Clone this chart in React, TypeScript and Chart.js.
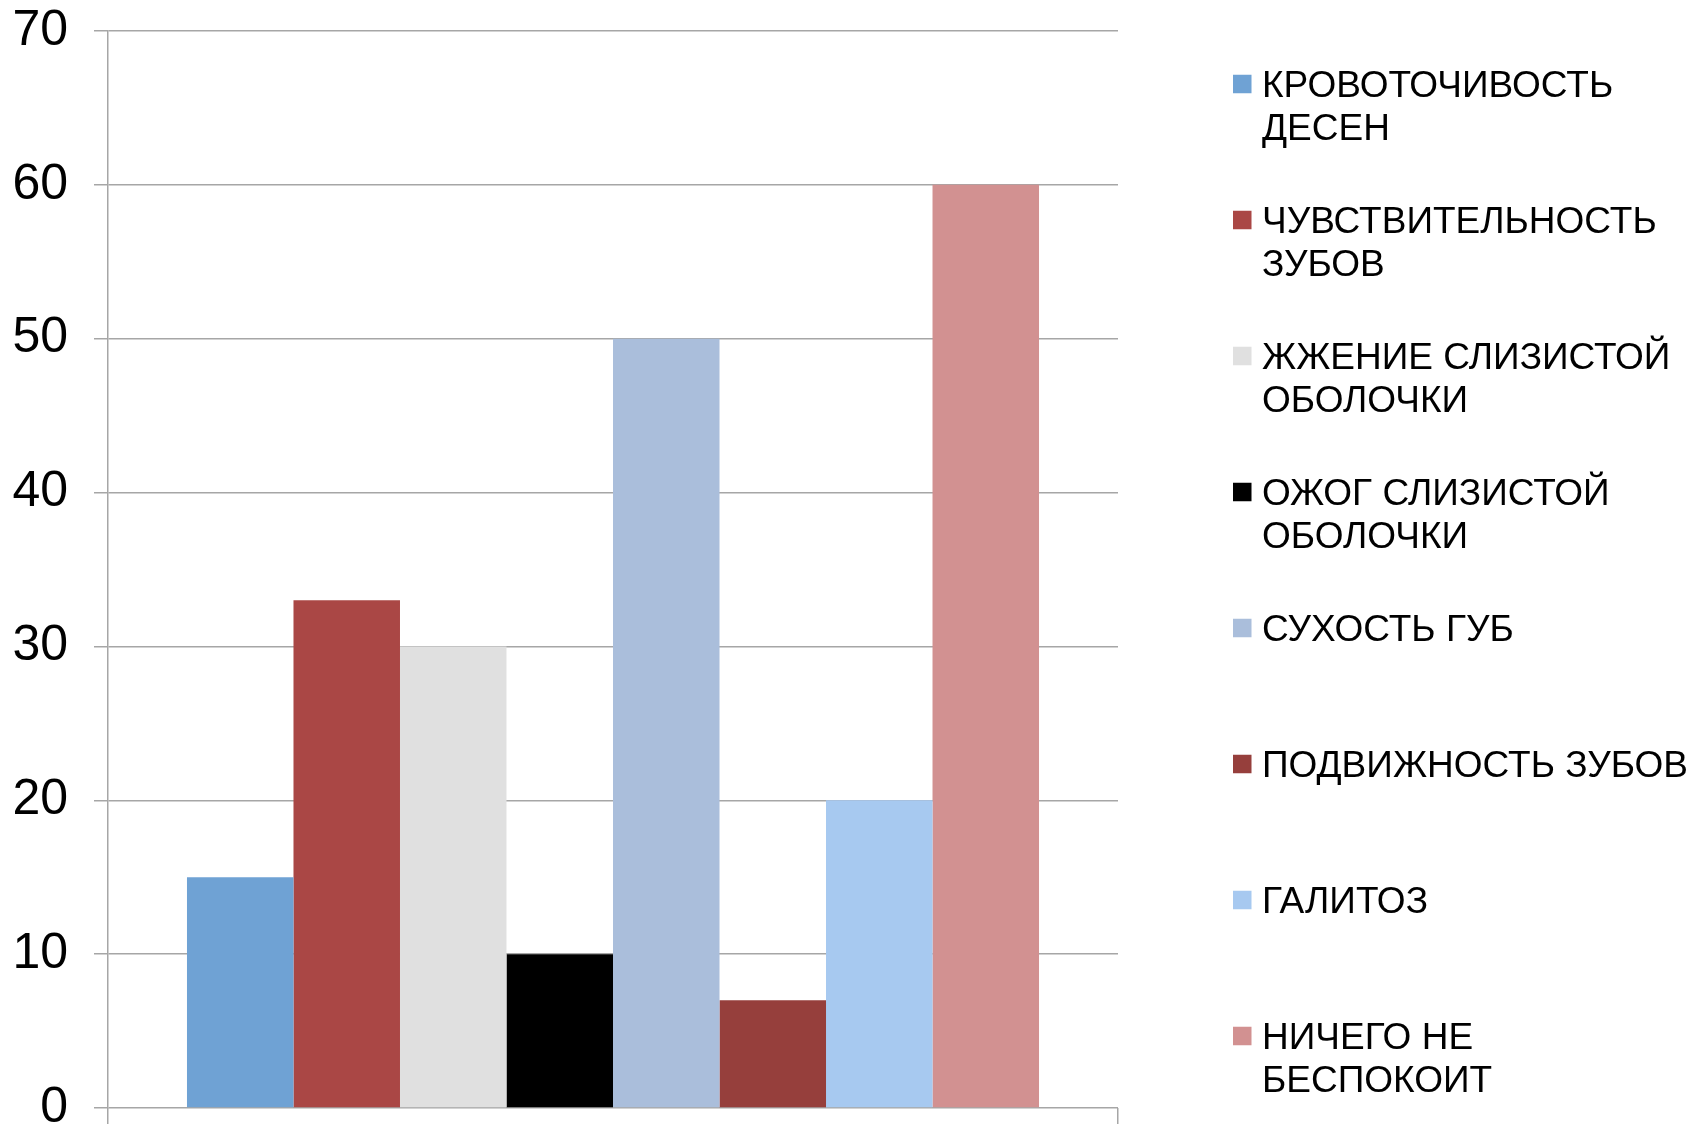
import React, { useEffect, useRef } from "react";
import { Chart, registerables } from "chart.js";

Chart.register(...registerables);

const CATEGORIES = [""];
const SERIES_NAMES = [
  "КРОВОТОЧИВОСТЬ\nДЕСЕН",
  "ЧУВСТВИТЕЛЬНОСТЬ\nЗУБОВ",
  "ЖЖЕНИЕ СЛИЗИСТОЙ\nОБОЛОЧКИ",
  "ОЖОГ СЛИЗИСТОЙ\nОБОЛОЧКИ",
  "СУХОСТЬ ГУБ",
  "ПОДВИЖНОСТЬ ЗУБОВ",
  "ГАЛИТОЗ",
  "НИЧЕГО НЕ\nБЕСПОКОИТ",
];
const SERIES_VALUES = [15, 33, 30, 10, 50, 7, 20, 60];
const SERIES_COLORS = [
  "#6FA2D4",
  "#AA4745",
  "#E0E0E0",
  "#000000",
  "#AABEDB",
  "#963F3C",
  "#A7C9F0",
  "#D29191",
];
const Y_MIN = 0;
const Y_MAX = 70;
const Y_STEP = 10;

const FONT = '"Liberation Sans", Arial, sans-serif';
const GRID = "#a6a6a6";

const sideLegend = {
  id: "sideLegend",
  afterDraw(chart: any) {
    const ctx = chart.ctx;
    ctx.save();
    ctx.font = `37px ${FONT}`;
    ctx.textBaseline = "alphabetic";
    ctx.textAlign = "left";
    chart.data.datasets.forEach((ds: any, i: number) => {
      const cy = 84 + i * 136;
      ctx.fillStyle = ds.backgroundColor;
      ctx.fillRect(1233, cy - 9.25, 18.5, 18.5);
      ctx.fillStyle = "#000";
      const lines: string[] = ds.legendLines;
      lines.forEach((line, j) => {
        ctx.fillText(line, 1262, cy + 12.7 + j * 43.3);
      });
    });
    ctx.restore();
  },
};

export default function App() {
  const ref = useRef<HTMLCanvasElement | null>(null);

  useEffect(() => {
    if (!ref.current) return;
    Chart.defaults.font.family = FONT;
    const chart = new Chart(ref.current, {
      type: "bar",
      data: {
        labels: CATEGORIES,
        datasets: SERIES_NAMES.map((name, i) => ({
          label: name.replace("\n", " "),
          legendLines: name.split("\n"),
          data: [SERIES_VALUES[i]],
          backgroundColor: SERIES_COLORS[i],
          borderWidth: 0,
          categoryPercentage: 0.8436,
          barPercentage: 1,
        })) as any,
      },
      options: {
        animation: false,
        responsive: true,
        maintainAspectRatio: false,
        layout: {
          autoPadding: false,
          padding: { left: 0, top: 31, right: 576, bottom: 0 },
        },
        plugins: {
          legend: { display: false },
          tooltip: { enabled: false },
          title: { display: false },
        },
        scales: {
          x: {
            offset: true,
            grid: {
              display: true,
              drawOnChartArea: false,
              drawTicks: true,
              tickLength: 16,
              color: GRID,
              lineWidth: 1.5,
              offset: true,
            },
            border: { display: false },
            ticks: { display: false },
            afterFit(scale: any) {
              scale.paddingLeft = 0;
              scale.paddingRight = 0;
            },
          },
          y: {
            min: Y_MIN,
            max: Y_MAX,
            ticks: {
              stepSize: Y_STEP,
              color: "#000",
              font: { size: 50, family: FONT },
              padding: 26,
            },
            grid: {
              color: GRID,
              lineWidth: 1.5,
              tickLength: 14,
              drawTicks: true,
            },
            border: { display: true, color: GRID, width: 1.5 },
            afterFit(scale: any) {
              scale.width = 108;
              scale.paddingTop = 0;
              scale.paddingBottom = 0;
            },
          },
        },
      },
      plugins: [sideLegend],
    });
    return () => chart.destroy();
  }, []);

  return (
    <div
      style={{
        position: "fixed",
        left: 0,
        top: 0,
        width: "1694px",
        height: "1124px",
        background: "#fff",
      }}
    >
      <canvas ref={ref} />
    </div>
  );
}
